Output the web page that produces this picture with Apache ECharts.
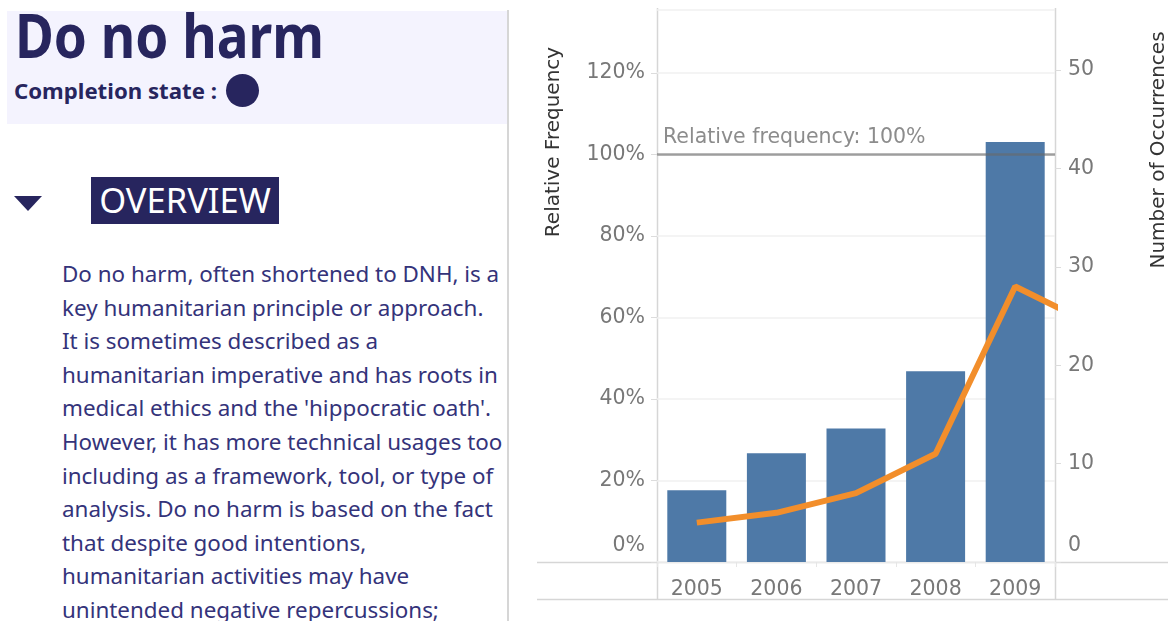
<!DOCTYPE html>
<html>
<head>
<meta charset="utf-8">
<script src="https://cdn.jsdelivr.net/npm/echarts@6/dist/echarts.min.js"></script>
<style>
html,body{margin:0;padding:0;background:#fff;width:1168px;height:621px;overflow:hidden;font-family:"Noto Sans",sans-serif;}
.abs{position:absolute;}
#hdr{left:7px;top:11px;width:500px;height:113px;background:#f4f3fe;}
#sep{left:507px;top:10px;width:2px;height:611px;background:#d6d6d6;}
#title{left:15px;top:4px;font-weight:700;font-size:61px;line-height:61px;color:#27255e;transform:scaleX(0.87);transform-origin:0 0;white-space:nowrap;}
#comp{left:14px;top:80px;font-weight:700;font-size:22.2px;line-height:22px;color:#27255e;white-space:nowrap;}
#dot{left:226px;top:74px;width:33px;height:33px;border-radius:50%;background:#27255e;}
#tri{left:14px;top:196px;width:0;height:0;border-left:14.5px solid transparent;border-right:14.5px solid transparent;border-top:15px solid #27255e;}
#ovbox{left:91px;top:177px;width:188px;height:47px;background:#27255e;}
#ovtxt{left:91px;top:177px;width:188px;line-height:45px;font-size:34.5px;color:#fff;text-align:center;white-space:nowrap;}
#para{left:62px;top:257px;font-size:22.4px;line-height:33.6px;color:#34337a;white-space:nowrap;}
#chart{left:510px;top:0;width:658px;height:621px;}
</style>
</head>
<body>
<div id="hdr" class="abs"></div>
<div id="sep" class="abs"></div>
<div id="title" class="abs">Do no harm</div>
<div id="comp" class="abs">Completion state :</div>
<div id="dot" class="abs"></div>
<div id="tri" class="abs"></div>
<div id="ovbox" class="abs"></div>
<div id="ovtxt" class="abs">OVERVIEW</div>
<div id="para" class="abs">Do no harm, often shortened to DNH, is a<br>key humanitarian principle or approach.<br>It is sometimes described as a<br>humanitarian imperative and has roots in<br>medical ethics and the 'hippocratic oath'.<br>However, it has more technical usages too<br>including as a framework, tool, or type of<br>analysis. Do no harm is based on the fact<br>that despite good intentions,<br>humanitarian activities may have<br>unintended negative repercussions;</div>
<div id="chart" class="abs"></div>
<script>
// ---- data ----
const years = ['2005', '2006', '2007', '2008', '2009'];
const relativeFrequency = [0.176, 0.267, 0.328, 0.468, 1.031];
const occurrenceYears = [2005, 2006, 2007, 2008, 2009, 2010];
const occurrences = [4, 5, 7, 11, 28, 24];
const referenceValue = 1.0;
const referenceLabel = 'Relative frequency: 100%';
const leftAxisTitle = 'Relative Frequency';
const rightAxisTitle = 'Number of Occurrences';

const chart = echarts.init(document.getElementById('chart'));
const tickFont = 'DejaVu Sans';
const tickColor = '#787878';
const tickSize = 20.5;
const frameColor = '#d6d6d6';

chart.setOption({
  animation: false,
  grid: { left: 147, right: 113, top: 10, bottom: 59, containLabel: false },
  xAxis: [
    {
      type: 'category', data: years,
      axisLine: { show: false },
      axisTick: { show: true, length: 5, lineStyle: { color: '#e6e6e6' } },
      axisLabel: { color: tickColor, fontSize: tickSize, fontFamily: tickFont, margin: 17 }
    },
    { type: 'value', min: 2004.5, max: 2009.5, show: false }
  ],
  yAxis: [
    {
      type: 'value', position: 'left', min: 0, max: 1.355, interval: 0.2,
      axisLine: { show: false },
      axisTick: { show: true, length: 6, lineStyle: { color: '#dcdcdc' } },
      splitLine: { show: true, lineStyle: { color: '#f1f1f1', width: 1.5 } },
      axisLabel: {
        showMaxLabel: false, margin: 12, color: tickColor, fontSize: tickSize, fontFamily: tickFont,
        formatter: v => v === 0 ? '{z|0%}' : Math.round(v * 100) + '%',
        rich: { z: { padding: [0, 0, 32, 0], color: tickColor, fontSize: tickSize, fontFamily: tickFont } }
      }
    },
    {
      type: 'value', position: 'right', min: 0, max: 56.1, interval: 10,
      axisLine: { show: false },
      axisTick: { show: true, length: 6, lineStyle: { color: '#dcdcdc' } },
      splitLine: { show: false },
      axisLabel: {
        showMaxLabel: false, margin: 13, color: tickColor, fontSize: tickSize, fontFamily: tickFont,
        formatter: v => v === 0 ? '{z|0}' : String(v),
        rich: { z: { padding: [0, 0, 32, 0], color: tickColor, fontSize: tickSize, fontFamily: tickFont } }
      }
    }
  ],
  series: [
    {
      type: 'bar', data: relativeFrequency, xAxisIndex: 0, yAxisIndex: 0,
      barWidth: 59, itemStyle: { color: '#4e79a7' },
      markLine: {
        silent: true, symbol: 'none',
        data: [{ yAxis: referenceValue }],
        lineStyle: { color: 'rgba(105,105,105,0.62)', width: 2.5, type: 'solid' },
        label: { position: 'insideStartTop', formatter: referenceLabel, color: '#8c8c8c',
                 fontSize: tickSize, fontFamily: tickFont, distance: [6, 6] }
      }
    },
    {
      type: 'line', xAxisIndex: 1, yAxisIndex: 1,
      data: occurrenceYears.map((y, i) => [y, occurrences[i]]),
      symbol: 'none', clip: true,
      lineStyle: { color: '#f28e2b', width: 6 }, z: 4
    }
  ],
  graphic: [
    { type: 'line', shape: { x1: 27, y1: 562.5, x2: 658, y2: 562.5 }, style: { stroke: frameColor, lineWidth: 1.5 } },
    { type: 'line', shape: { x1: 27, y1: 599.5, x2: 658, y2: 599.5 }, style: { stroke: frameColor, lineWidth: 1.5 } },
    { type: 'line', shape: { x1: 147.5, y1: 8, x2: 147.5, y2: 600 }, style: { stroke: frameColor, lineWidth: 1.5 } },
    { type: 'line', shape: { x1: 545.5, y1: 8, x2: 545.5, y2: 600 }, style: { stroke: frameColor, lineWidth: 1.5 } },
    { type: 'text', x: 44, y: 142, rotation: Math.PI / 2,
      style: { text: leftAxisTitle, align: 'center', verticalAlign: 'middle', fill: '#333', font: '20px "DejaVu Sans"' } },
    { type: 'text', x: 649, y: 150, rotation: Math.PI / 2,
      style: { text: rightAxisTitle, align: 'center', verticalAlign: 'middle', fill: '#333', font: '20px "DejaVu Sans"' } }
  ]
});
</script>
</body>
</html>
